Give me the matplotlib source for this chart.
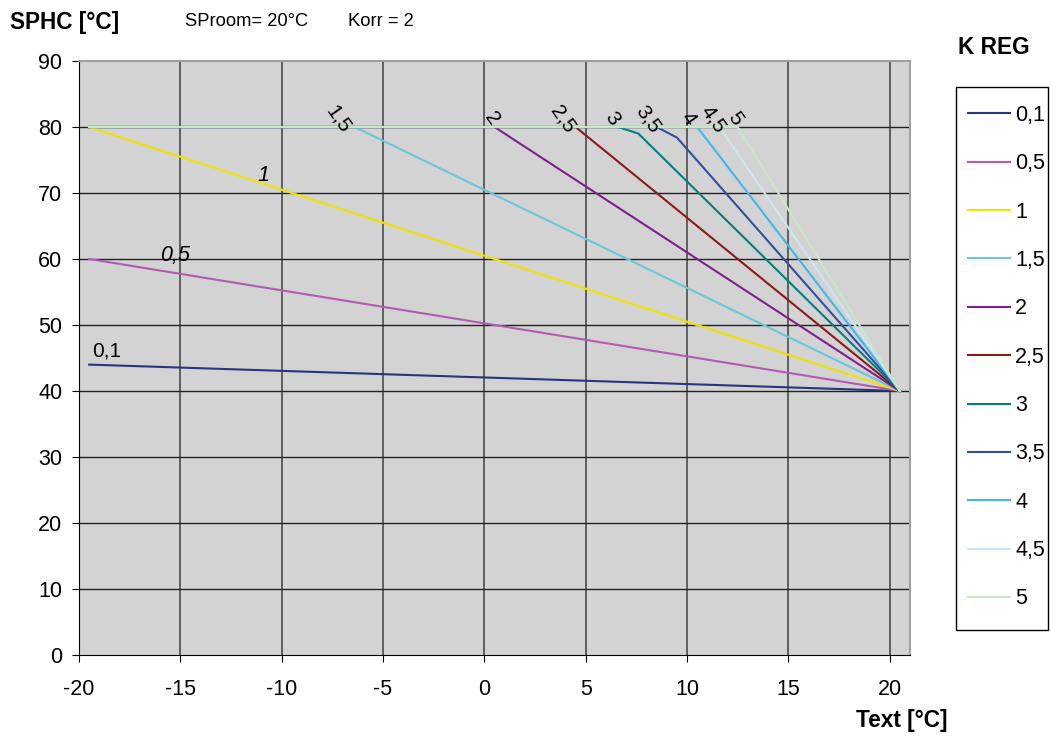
import matplotlib
matplotlib.use("Agg")
import matplotlib.pyplot as plt
from matplotlib.patches import Rectangle

plt.rcParams['font.family'] = ['Liberation Sans', 'DejaVu Sans']
plt.rcParams['axes.unicode_minus'] = False

# heating curves (Text [°C] -> SPHC [°C])
k_labels = ['0,1', '0,5', '1', '1,5', '2', '2,5', '3', '3,5', '4', '4,5', '5']
x_01 = [-19.5, 20.5]
y_01 = [44, 40]
x_05 = [-19.5, 20.5]
y_05 = [60, 40]
x_1 = [-19.5, 20.5]
y_1 = [80, 40]
x_15 = [-19.5, -6.4, 20.5]
y_15 = [80, 80, 40]
x_2 = [-19.5, 0.5, 20.5]
y_2 = [80, 80, 40]
x_25 = [-19.5, 4.5, 20.5]
y_25 = [80, 80, 40]
x_3 = [-19.5, 6.6, 7.6, 20.5]
y_3 = [80, 80, 79, 40]
x_35 = [-19.5, 8.5, 9.5, 20.5]
y_35 = [80, 80, 78.4, 40]
x_4 = [-19.5, 10.5, 20.5]
y_4 = [80, 80, 40]
x_45 = [-19.5, 11.6, 20.5]
y_45 = [80, 80, 40]
x_5 = [-19.5, 12.5, 20.5]
y_5 = [80, 80, 40]

xs = [x_01, x_05, x_1, x_15, x_2, x_25, x_3, x_35, x_4, x_45, x_5]
ys = [y_01, y_05, y_1, y_15, y_2, y_25, y_3, y_35, y_4, y_45, y_5]
colors = ['#2a3580', '#b45ab4', '#f0e400', '#66c8dc', '#7f1f8f', '#8b1a1a',
          '#008080', '#3050a0', '#40b8e8', '#cce6f0', '#c8e6c8']

W, H = 1051, 738
fig = plt.figure(figsize=(W / 100, H / 100), dpi=100)
ax = fig.add_axes([79 / W, 1 - 655 / H, (910 - 79) / W, (655 - 61) / H])
ax.set_facecolor('#d3d3d3')

for x, y, c, lab in zip(xs, ys, colors, k_labels):
    ax.plot(x, y, color=c, lw=1.5, label=lab, zorder=3)

ax.set_xlim(-20, 21)
ax.set_ylim(0, 90)
ax.set_xticks(range(-20, 21, 5))
ax.set_yticks(range(0, 91, 10))
for xv in range(-15, 21, 5):
    ax.axvline(xv, color='#555555', lw=1.3, zorder=1)
for yv in range(10, 90, 10):
    ax.axhline(yv, color='#222222', lw=1.0, zorder=1)

for side in ['top', 'right']:
    ax.spines[side].set_color('#a0a0a0')
    ax.spines[side].set_linewidth(1.5)
for side in ['left', 'bottom']:
    ax.spines[side].set_color('black')
ax.tick_params(direction='out', length=5, labelsize=15.5)
ax.tick_params(axis='x', pad=12)
ax.tick_params(axis='y', pad=7)

# line labels
ax.text(-19.35, 44.6, '0,1', fontsize=15, ha='left', va='bottom')
ax.text(-16.0, 59.0, '0,5', fontsize=15.5, style='italic', ha='left', va='bottom')
ax.text(-11.2, 71.0, '1', fontsize=15.5, style='italic', ha='left', va='bottom')
top_labels = [('1,5', -7.6), ('2', 0.0), ('2,5', 3.5), ('3', 5.9), ('3,5', 7.7),
              ('4', 9.7), ('4,5', 10.9), ('5', 12.0)]
for lab, xv in top_labels:
    ax.text(xv, 80.4, lab, fontsize=15, rotation=-55, ha='center', va='bottom',
            rotation_mode='anchor')

fig.text(10 / W, 1 - 22 / H, 'SPHC [°C]', fontsize=16.3, fontweight='bold', va='center')
fig.text(185 / W, 1 - 22 / H, 'SProom= 20°C', fontsize=13.2, va='center')
fig.text(348 / W, 1 - 22 / H, 'Korr = 2', fontsize=13.2, va='center')
fig.text(948 / W, 1 - 720 / H, 'Text [°C]', fontsize=16.3, fontweight='bold',
         ha='right', va='center')
fig.text(994 / W, 1 - 48 / H, 'K REG', fontsize=16.3, fontweight='bold',
         ha='center', va='center')

# legend box drawn separately so it can sit tight around the entries
fig.patches.append(Rectangle((956 / W, 1 - 630 / H), 92 / W, 543 / H,
                             transform=fig.transFigure, fill=False,
                             edgecolor='black', lw=1.0))
leg = fig.legend(loc='upper left', bbox_to_anchor=(968 / W, 1 - 105 / H),
                 fontsize=15.5, frameon=False, labelspacing=1.27,
                 handlelength=1.95, handletextpad=0.25,
                 borderpad=0, borderaxespad=0)

fig.savefig('out.png', dpi=100)
